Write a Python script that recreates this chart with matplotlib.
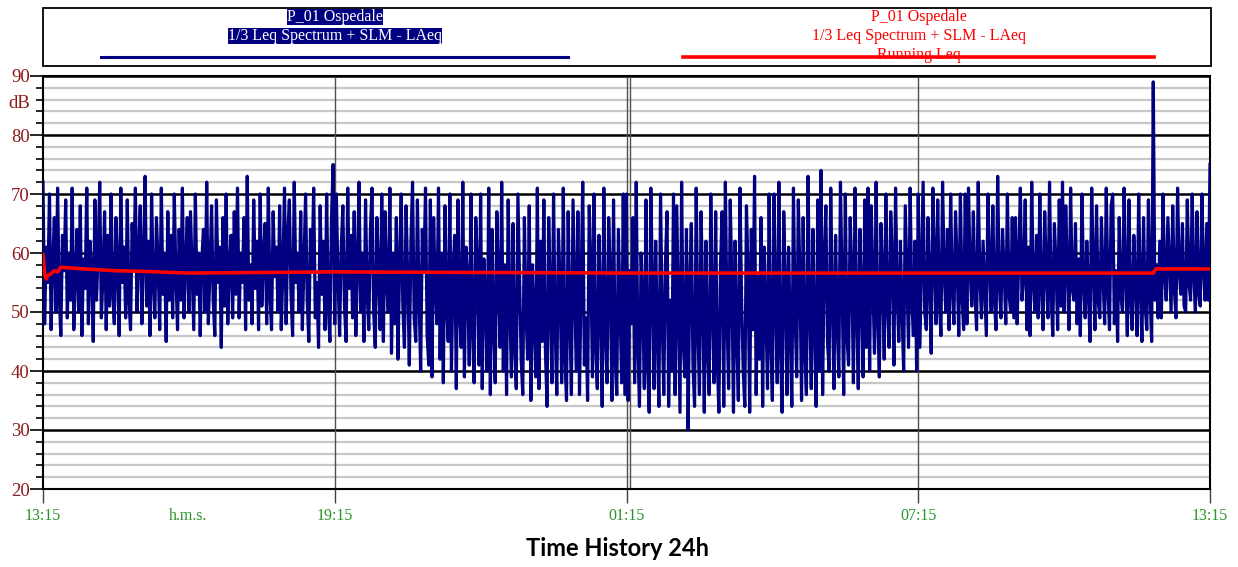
import numpy as np
import matplotlib.pyplot as plt
from matplotlib.patches import Rectangle
from matplotlib.lines import Line2D

# LAeq samples every 2 minutes starting 13:15 (one row = one hour)
laeq = [
    72, 48, 61, 55, 70, 47, 58, 66, 50, 71, 53, 46, 63, 57, 69, 49, 60, 52, 71, 47, 56, 64, 50, 68, 46, 59, 54, 71, 48, 62,
    57, 45, 69, 52, 60, 72, 49, 56, 67, 47, 63, 51, 70, 53, 48, 66, 58, 46, 71, 55, 61, 49, 69, 52, 47, 65, 57, 71, 50, 60,
    68, 48, 59, 73, 51, 62, 46, 70, 55, 49, 66, 58, 47, 71, 53, 60, 45, 67, 52, 63, 49, 70, 56, 47, 64, 52, 71, 49, 58, 66,
    50, 67, 57, 47, 70, 53, 60, 46, 59, 64, 50, 72, 48, 57, 68, 52, 46, 69, 55, 61, 44, 66, 51, 70, 48, 58, 63, 49, 67, 53,
    71, 49, 60, 55, 66, 47, 73, 52, 58, 48, 69, 54, 62, 47, 70, 51, 59, 65, 48, 71, 53, 47, 67, 56, 61, 50, 68, 47, 57, 71,
    48, 63, 69, 53, 46, 72, 55, 60, 50, 67, 47, 58, 70, 52, 45, 64, 57, 71, 49, 55, 44, 68, 53, 62, 47, 70, 51, 45, 66, 75,
    48, 70, 56, 46, 61, 68, 51, 45, 71, 54, 63, 49, 67, 46, 58, 72, 50, 60, 45, 69, 53, 47, 64, 71, 50, 44, 66, 57, 47, 70,
    45, 67, 55, 50, 71, 43, 60, 48, 66, 42, 58, 70, 51, 44, 68, 56, 41, 62, 72, 49, 45, 69, 53, 40, 64, 57, 71, 46, 41, 69,
    39, 66, 54, 48, 71, 42, 60, 38, 68, 51, 45, 70, 40, 57, 63, 37, 69, 50, 44, 72, 39, 61, 55, 41, 70, 47, 38, 66, 58, 41,
    70, 37, 59, 52, 40, 71, 36, 64, 48, 38, 67, 55, 44, 72, 40, 58, 36, 69, 51, 39, 65, 44, 37, 70, 56, 42, 36, 66, 50, 42,
    68, 35, 58, 49, 39, 71, 37, 62, 45, 69, 43, 34, 66, 53, 38, 70, 47, 36, 64, 55, 38, 71, 42, 35, 67, 50, 36, 69, 54, 40,
    67, 36, 55, 72, 41, 49, 35, 68, 58, 39, 70, 44, 37, 63, 52, 34, 71, 46, 38, 66, 56, 35, 69, 42, 36, 64, 51, 38, 70, 36,
    70, 35, 57, 48, 66, 38, 72, 44, 34, 60, 52, 37, 69, 41, 33, 71, 55, 37, 62, 46, 34, 70, 49, 36, 58, 67, 34, 52, 40, 70,
    36, 68, 50, 33, 72, 45, 39, 64, 30, 55, 65, 41, 34, 71, 48, 36, 67, 53, 33, 62, 44, 36, 70, 51, 38, 67, 42, 33, 58, 67,
    34, 72, 49, 37, 69, 55, 33, 62, 46, 35, 71, 52, 40, 34, 68, 57, 33, 64, 47, 73, 36, 56, 42, 66, 34, 61, 50, 37, 70, 45,
    35, 70, 52, 38, 72, 44, 33, 67, 55, 36, 61, 47, 34, 71, 50, 39, 69, 56, 35, 66, 43, 36, 73, 51, 37, 64, 48, 34, 69, 40,
    74, 36, 59, 68, 45, 40, 71, 52, 37, 63, 48, 39, 72, 55, 36, 70, 46, 41, 66, 57, 38, 71, 50, 37, 64, 53, 39, 69, 44, 71,
    40, 68, 55, 43, 72, 49, 39, 65, 57, 42, 70, 51, 44, 67, 59, 41, 71, 53, 45, 62, 50, 40, 68, 56, 44, 71, 52, 46, 62, 40,
    70, 44, 58, 72, 50, 47, 66, 55, 43, 71, 59, 48, 69, 52, 46, 72, 57, 50, 64, 47, 70, 54, 48, 67, 58, 46, 70, 53, 47, 70,
    48, 71, 57, 51, 67, 53, 47, 72, 56, 49, 62, 54, 46, 70, 58, 50, 68, 52, 47, 73, 55, 49, 64, 57, 48, 70, 53, 50, 66, 49,
    66, 48, 59, 71, 52, 56, 69, 47, 61, 46, 72, 55, 50, 63, 49, 70, 54, 47, 67, 57, 49, 72, 53, 46, 65, 58, 47, 69, 51, 72,
    50, 68, 57, 47, 71, 54, 52, 65, 48, 59, 46, 70, 55, 49, 62, 53, 45, 71, 58, 47, 68, 52, 49, 66, 56, 48, 71, 54, 47, 68,
    70, 48, 57, 45, 66, 53, 50, 71, 56, 46, 69, 52, 47, 63, 55, 46, 70, 54, 45, 66, 51, 47, 69, 53, 45, 89, 52, 58, 49, 62,
    49, 70, 56, 52, 66, 58, 50, 68, 54, 49, 71, 57, 53, 65, 51, 50, 69, 55, 52, 70, 56, 50, 67, 53, 51, 70, 57, 52, 65, 52,
    75,
]
laeq_min = np.linspace(0, 1440, len(laeq))

# running Leq (minutes from 13:15, dB)
leq_min = [0, 2, 4, 6, 10, 14, 18, 22, 30, 50, 90, 120, 180, 360, 720, 1200, 1370, 1373, 1440]
leq_val = [59.7, 56.5, 55.6, 56.2, 56.5, 57.0, 56.8, 57.6, 57.5, 57.3, 57.0, 56.9, 56.6, 56.8,
           56.6, 56.6, 56.6, 57.3, 57.3]

xtick_min = [0, 360, 720, 1080, 1440]
xtick_lbl = ['13:15', '19:15', '01:15', '07:15', '13:15']
legend_lines = ['P_01 Ospedale', '1/3 Leq Spectrum + SLM - LAeq']

W, H = 1238, 567
NAVY = '#000080'
RED = '#ff0000'
MAROON = '#8b1a1a'
GREEN = '#2a922a'
SERIF = 'Liberation Serif'

fig = plt.figure(figsize=(W / 100, H / 100), dpi=100)
fig.patch.set_facecolor('white')

def fx(px):
    return px / W

def fy(py):
    return 1 - py / H

ax = fig.add_axes([fx(43), fy(489), fx(1210) - fx(43), fy(76) - fy(489)])
ax.set_xlim(0, 1440)
ax.set_ylim(20, 90)

ax.set_yticks(np.arange(20, 91, 10))
ax.set_yticks(np.arange(20, 91, 2), minor=True)
ax.grid(which='minor', axis='y', color='#c8c8c8', lw=1.6)
ax.grid(which='major', axis='y', color='black', lw=1.8)
ax.set_axisbelow(True)
for m in xtick_min[1:-1]:
    ax.axvline(m, color='#505050', lw=1.0, zorder=1)
ax.axvline(724, color='#505050', lw=1.0, zorder=1)

ax.plot(laeq_min, laeq, color=NAVY, lw=2.3, zorder=3)
ax.plot(leq_min, leq_val, color=RED, lw=2.6, zorder=4)

ax.set_xticks(xtick_min)
ax.set_xticklabels(xtick_lbl)
ax.tick_params(axis='x', length=10, width=1, color='#404040', pad=4,
               labelcolor=GREEN, labelsize=11.5)
ax.tick_params(axis='y', which='major', length=9.5, width=1.2, pad=0,
               labelcolor=MAROON, labelsize=13.5)
ax.tick_params(axis='y', which='minor', length=5, width=1.2)
for lbl in ax.get_xticklabels() + ax.get_yticklabels():
    lbl.set_family(SERIF)
for s in ax.spines.values():
    s.set_color('black')
    s.set_linewidth(1.5)

ax.text(-13 / 0.8104, 85.3, 'dB', ha='right', va='center', color=MAROON,
        fontsize=13.5, family=SERIF)
fig.text(fx(188), fy(516), 'h.m.s.', ha='center', va='center', color=GREEN,
         fontsize=11.5, family=SERIF)

# legend box
fig.patches.append(Rectangle((fx(43), fy(66)), fx(1211) - fx(43), fy(8) - fy(66),
                             transform=fig.transFigure, fill=False, ec='black', lw=1.3))
line_y = [17, 36]
for txt, y in zip(legend_lines, line_y):
    fig.text(fx(335), fy(y), txt, ha='center', va='center', color='white', fontsize=11.5,
             family=SERIF, bbox=dict(facecolor=NAVY, edgecolor='none', pad=0))
for txt, y in zip(legend_lines + ['Running Leq'], line_y + [55]):
    fig.text(fx(919), fy(y), txt, ha='center', va='center', color=RED, fontsize=11.5,
             family=SERIF, bbox=dict(facecolor='white', edgecolor='none', pad=0))
fig.add_artist(Line2D([fx(101), fx(568)], [fy(57), fy(57)], color=NAVY, lw=2.2,
                      transform=fig.transFigure))
fig.add_artist(Line2D([fx(683), fx(1154)], [fy(57), fy(57)], color=RED, lw=2.6,
                      transform=fig.transFigure, zorder=5))

fig.text(fx(618), fy(548), 'Time History 24h', ha='center', va='center', fontsize=17,
         fontweight='bold', family='Lato')

plt.savefig('out.png', dpi=100)
